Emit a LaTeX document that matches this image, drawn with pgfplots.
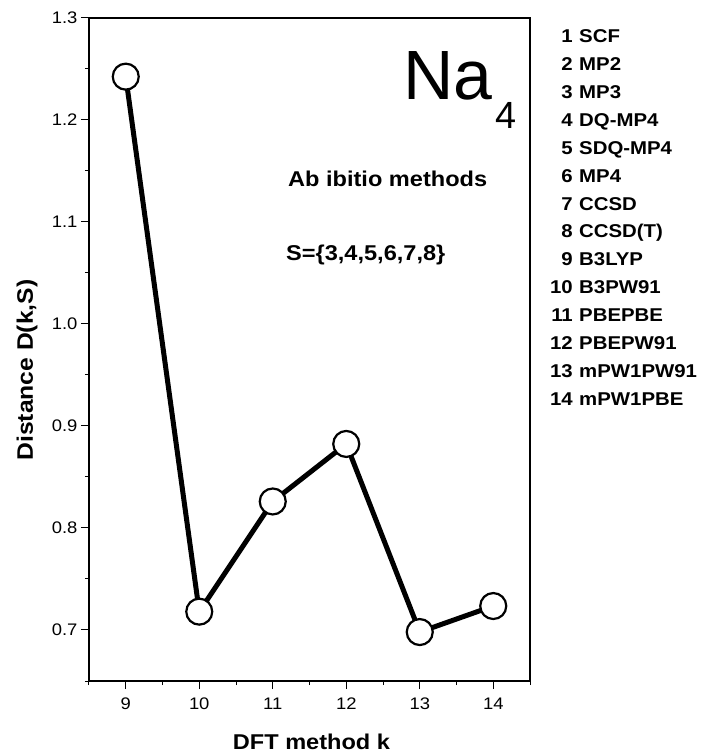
\documentclass[border=0pt]{standalone}
\usepackage{fontspec}
\setmainfont{Liberation Sans}[FakeStretch=1.1]
\newfontfamily\nafont{Liberation Sans}
\usepackage{pgfplots}
\pgfplotsset{compat=1.18}
\begin{document}
\begin{tikzpicture}[x=1bp,y=1bp]
\begin{axis}[
  at={(0,0)}, anchor=south west,
  scale only axis, width=441bp, height=663bp,
  xmin=8.5, xmax=14.5, ymin=0.65, ymax=1.3,
  xtick={9,10,11,12,13,14},
  minor xtick={8.5,9.5,10.5,11.5,12.5,13.5,14.5},
  ytick={0.7,0.8,0.9,1.0,1.1,1.2,1.3},
  yticklabels={0.7,0.8,0.9,1.0,1.1,1.2,1.3},
  minor ytick={0.65,0.75,0.85,0.95,1.05,1.15,1.25},
  tick align=outside, tick pos=left,
  major tick length=8bp, minor tick length=4bp,
  tick style={black, line width=1bp},
  axis line style={line width=1.2bp},
  ticklabel style={font=\fontsize{16.8}{18}\selectfont},
  xticklabel style={yshift=-5bp},
  /pgf/number format/assume math mode=true,
  clip=false,
]
\addplot[line width=5bp, black, mark=*, mark size=13bp,
  mark options={fill=white, draw=black, line width=2.2bp}]
  coordinates {(9,1.2425)(10,0.718)(11,0.826)(12,0.8824)(13,0.698)(14,0.7235)};
\end{axis}
\node[anchor=base west, inner sep=0] at (314,581) {\nafont\fontsize{70}{70}\selectfont Na};
\node[anchor=base west, inner sep=0] at (406,552) {\nafont\fontsize{38}{38}\selectfont 4};
\node[anchor=base west, inner sep=0] at (199,494) {\fontsize{21.5}{24}\selectfont\bfseries Ab ibitio methods};
\node[anchor=base west, inner sep=0] at (197,420) {\fontsize{21.5}{24}\selectfont\bfseries S=\{3,4,5,6,7,8\}};
\foreach \n/\name in {1/SCF,2/MP2,3/MP3,4/DQ-MP4,5/SDQ-MP4,6/MP4,7/CCSD,8/CCSD(T),9/B3LYP,10/B3PW91,11/PBEPBE,12/PBEPW91,13/mPW1PW91,14/mPW1PBE}{
  \node[anchor=base east, inner sep=0] at (484,{638-(\n-1)*27.85}) {\fontsize{18.6}{20}\selectfont\bfseries \n};
  \node[anchor=base west, inner sep=0] at (490,{638-(\n-1)*27.85}) {\fontsize{18.6}{20}\selectfont\bfseries \name};
}
\node[anchor=base, inner sep=0] at (222.5,-68) {\fontsize{21.5}{24}\selectfont\bfseries DFT method k};
\node[anchor=base, inner sep=0, rotate=90] at (-56,311) {\fontsize{22.5}{24}\selectfont\bfseries Distance D(k,S)};
\pgfresetboundingbox
\useasboundingbox (-89,-73) rectangle (613,681);
\end{tikzpicture}
\end{document}
